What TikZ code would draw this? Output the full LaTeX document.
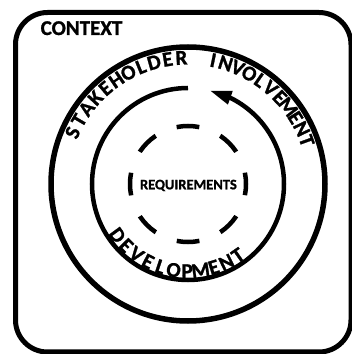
\documentclass[tikz,border=0pt]{standalone}
\usepackage{fontspec}
\setmainfont{Carlito}
% a heavier weight for the ring labels
\newfontfamily\heavyfamily{Carlito}[BoldFeatures={FakeBold=1.2}]
\usetikzlibrary{arrows.meta,bending}
\newcommand\ringwordfont{\heavyfamily\fontsize{21pt}{21pt}\selectfont\bfseries}
\newdimen\arcpos
\newdimen\arctotal
\newcount\arcn
% Set a word letter by letter along a circular arc.
% #1 name prefix, #2 centre, #3 baseline radius, #4 start angle, #5 end angle, #6 letters
\newcommand\arcletters[6]{%
  \global\arctotal=0pt \global\arcn=0
  \foreach \ch in {#6}{\setbox0\hbox{\ringwordfont\ch}\global\advance\arctotal by \wd0 \global\advance\arcn by 1 }%
  \pgfmathsetmacro\arcsign{#5>#4 ? 1 : -1}%
  \pgfmathsetmacro\arcgap{(abs(#5-#4)*pi/180*#3 - \arctotal)/(\arcn-1)}%
  \global\arcpos=0pt
  \foreach \ch [count=\i] in {#6}{%
    \setbox0\hbox{\ringwordfont\ch}%
    \pgfmathsetmacro\chw{\wd0}%
    \pgfmathsetmacro\ang{#4 + \arcsign*(\arcpos + 0.5*\chw)/#3*180/pi}%
    \pgfmathsetmacro\rot{\ang + \arcsign*90}%
    \node[curvechar, rotate=\rot] (#1\i) at ([shift={(\ang:#3)}]#2) {\ringwordfont\ch};
    \global\advance\arcpos by \chw pt
    \global\advance\arcpos by \arcgap pt
  }}
\begin{document}
\begin{tikzpicture}[x=1pt,y=1pt,
  frame/.style={draw, line width=5pt, rounded corners=32pt},
  ring/.style={circle, draw, inner sep=0pt, outer sep=0pt},
  cycle/.style={line width=4.5pt, -{Triangle[length=22pt,width=13pt]}},
  curvechar/.style={anchor=base, inner sep=0pt},
  label/.style={inner sep=0pt}]
% page and outer frame
\useasboundingbox[fill=white] (0,0) rectangle (352,354);
\draw[frame] (15.5,341.5) rectangle (351,2);
\node[label, font=\heavyfamily\fontsize{21}{21}\selectfont\bfseries, anchor=base west] (ctx) at (40.5,319) {CONTEXT};

% concentric rings
\coordinate (c) at (188,170);
\node[ring, line width=5.5pt, minimum size=274pt] (outer) at (c) {};
\node[ring, line width=4.5pt, minimum size=116pt,
      dash pattern=on 22.78pt off 22.78pt, dash phase=11.39pt] (core) at (c) {};
\node[label, font=\heavyfamily\fontsize{14.5}{14.5}\selectfont\bfseries, anchor=base] (req) at (188.4,164.7) {REQUIREMENTS};

% development cycle with arrow
\draw[cycle] ([shift={(90:96)}]c) arc[start angle=90, end angle=437, radius=96];

% curved labels
\arcletters{stake}{c}{119.5}{156}{93}{S,T,A,K,E,H,O,L,D,E,R}
\arcletters{invol}{c}{119.5}{78.5}{20}{I,N,V,O,L,V,E,M,E,N,T}
\arcletters{devel}{c}{94}{216}{305}{D,E,V,E,L,O,P,M,E,N,T}
\end{tikzpicture}
\end{document}
